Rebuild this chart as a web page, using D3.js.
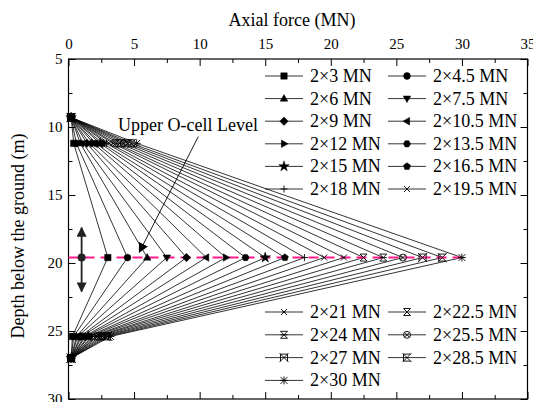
<!DOCTYPE html>
<html>
<head>
<meta charset="utf-8">
<script src="https://cdn.jsdelivr.net/npm/d3@7"></script>
<style>
  body { margin: 0; background: #fff; }
  svg text { font-family: "Liberation Serif", "Times New Roman", "DejaVu Serif", serif !important; }
</style>
</head>
<body>
<svg id="chart" width="533" height="402" font-family="Liberation Serif, serif"></svg>
<script>
// Loads (2 x P MN) and the measured axial force at each depth
var loads = [3, 4.5, 6, 7.5, 9, 10.5, 12, 13.5, 15, 16.5, 18, 19.5, 21, 22.5, 24, 25.5, 27, 28.5, 30];
var labels = ["2×3 MN", "2×4.5 MN", "2×6 MN", "2×7.5 MN", "2×9 MN", "2×10.5 MN", "2×12 MN", "2×13.5 MN",
              "2×15 MN", "2×16.5 MN", "2×18 MN", "2×19.5 MN", "2×21 MN", "2×22.5 MN", "2×24 MN",
              "2×25.5 MN", "2×27 MN", "2×28.5 MN", "2×30 MN"];
var depths = [9.3, 11.2, 19.6, 25.4, 27.0];
var forceTop = [0.2, 0.2, 0.2, 0.2, 0.2, 0.2, 0.2, 0.2, 0.2, 0.2, 0.2, 0.2, 0.2, 0.2, 0.2, 0.2, 0.2, 0.2, 0.2];
var force11 = [0.4, 0.6, 0.9, 1.1, 1.4, 1.6, 1.9, 2.1, 2.4, 2.6, 2.9, 3.1, 3.4, 3.6, 3.9, 4.2, 4.5, 4.8, 5.2];
var forcePeak = [3, 4.5, 6, 7.5, 9, 10.5, 12, 13.5, 15, 16.5, 18, 19.5, 21, 22.5, 24, 25.5, 27, 28.5, 30];
var force25 = [0.3, 0.4, 0.6, 0.7, 0.9, 1.0, 1.2, 1.3, 1.5, 1.6, 1.8, 1.9, 2.1, 2.2, 2.4, 2.6, 2.8, 3.0, 3.2];
var forceBottom = [0.2, 0.2, 0.2, 0.2, 0.2, 0.2, 0.2, 0.2, 0.2, 0.2, 0.2, 0.2, 0.2, 0.2, 0.2, 0.2, 0.2, 0.2, 0.2];
var xTicks = [0, 5, 10, 15, 20, 25, 30, 35];
var yTicks = [5, 10, 15, 20, 25, 30];
var oCellDepth = 19.6;

var FONT = "'Liberation Serif', 'Times New Roman', 'DejaVu Serif', serif";
var svg = d3.select("#chart");
var plot = {left: 68.5, right: 527.5, top: 59, bottom: 399};

var xScale = d3.scaleLinear().domain([0, 35]).range([plot.left, plot.right]);
var yScale = d3.scaleLinear().domain([5, 30]).range([plot.top, plot.bottom]);

var series = loads.map(function(p, i) {
    var f = [forceTop[i], force11[i], forcePeak[i], force25[i], forceBottom[i]];
    return depths.map(function(d, j) { return {x: f[j], y: d}; });
});

// Marker shapes, one per load step
function markerPath(i) {
    switch (i) {
        case 0: return "M-3.2,-3.2h6.4v6.4h-6.4z";
        case 1: return "M3.4,0A3.4,3.4,0,1,1,-3.4,0A3.4,3.4,0,1,1,3.4,0Z";
        case 2: return "M0,-4L3.8,2.6L-3.8,2.6Z";
        case 3: return "M0,4L3.8,-2.6L-3.8,-2.6Z";
        case 4: return "M0,-4.2L4.2,0L0,4.2L-4.2,0Z";
        case 5: return "M-4,0L2.6,-3.8L2.6,3.8Z";
        case 6: return "M4,0L-2.6,-3.8L-2.6,3.8Z";
        case 7: return "M3.6,0L1.8,3.1L-1.8,3.1L-3.6,0L-1.8,-3.1L1.8,-3.1Z";
        case 8: return d3.symbol().type(d3.symbolStar).size(34)();
        case 9: return "M0,-3.7L3.5,-1.1L2.2,3L-2.2,3L-3.5,-1.1Z";
        case 10: return "M-3.5,0H3.5M0,-3.5V3.5";
        case 11: return "M-3,-3L3,3M-3,3L3,-3";
        case 12: return "M-3,-3L3,3M-3,3L3,-3M-1.5,0H1.5";
        case 13: return "M-3.5,-3.5L3.5,3.5M-3.5,3.5L3.5,-3.5M-3.5,-3.5H3.5M-3.5,3.5H3.5";
        case 14: return "M-3.5,-3.5L3.5,3.5M-3.5,3.5L3.5,-3.5M-3.5,0H3.5M-3.5,-3.5H3.5M-3.5,3.5H3.5";
        case 15: return "M3.5,0A3.5,3.5,0,1,1,-3.5,0A3.5,3.5,0,1,1,3.5,0ZM-2.5,-2.5L2.5,2.5M-2.5,2.5L2.5,-2.5";
        case 16: return "M-4.5,-4.5L4.5,4.5M-4.5,4.5L4.5,-4.5M-3.5,-3.5V3.5M3.5,-3.5V3.5M-3.5,-3.5H3.5";
        case 17: return "M-4.5,-4.5L4.5,4.5M-4.5,4.5L4.5,-4.5M-3.5,-3.5V3.5M-3.5,-3.5H3.5M-3.5,3.5H3.5";
        default: return "M-3.5,-3.5L3.5,3.5M-3.5,3.5L3.5,-3.5M-4,0H4M0,-4V4";
    }
}
function filled(i) { return i < 10; }

// Ticks (all pointing inward)
function tickAxis(axis, values, size, translate, labelled) {
    var g = svg.append("g")
        .attr("transform", translate)
        .call(axis.tickValues(values).tickSizeInner(size).tickSizeOuter(0).tickPadding(labelled ? 10 : 0)
             .tickFormat(labelled ? d3.format("d") : ""));
    g.attr("font-family", FONT).attr("font-size", 15);
    g.select(".domain").remove();
    g.selectAll("line").attr("stroke", "#000");
    g.selectAll("text").attr("fill", "#000").style("font-size", "15px")
      .style("font-family", FONT);
    return g;
}
var xMinor = [2.5, 7.5, 12.5, 17.5, 22.5, 27.5, 32.5];
var yMinor = [7.5, 12.5, 17.5, 22.5, 27.5];

// X-Axis on top
tickAxis(d3.axisTop(xScale), xTicks, -7, "translate(0," + plot.top + ")", true);
tickAxis(d3.axisTop(xScale), xMinor, -4, "translate(0," + plot.top + ")", false);
tickAxis(d3.axisBottom(xScale), xTicks, -7, "translate(0," + plot.bottom + ")", false);
tickAxis(d3.axisBottom(xScale), xMinor, -4, "translate(0," + plot.bottom + ")", false);

// Y-Axis
var yg = tickAxis(d3.axisLeft(yScale), yTicks, -7, "translate(" + plot.left + ",0)", true);
yg.selectAll("text").attr("x", -6);
tickAxis(d3.axisLeft(yScale), yMinor, -4, "translate(" + plot.left + ",0)", false);
tickAxis(d3.axisRight(yScale), yTicks, -7, "translate(" + plot.right + ",0)", false);
tickAxis(d3.axisRight(yScale), yMinor, -4, "translate(" + plot.right + ",0)", false);

// Frame
svg.append("rect")
    .attr("x", plot.left).attr("y", plot.top)
    .attr("width", plot.right - plot.left).attr("height", plot.bottom - plot.top)
    .attr("fill", "none").attr("stroke", "#000").attr("stroke-width", 1.2);

// Axis labels
svg.append("text")
    .attr("x", (plot.left + plot.right) / 2 - 6).attr("y", 26)
    .attr("text-anchor", "middle")
    .style("font-family", FONT)
    .style("font-size", "18px")
    .text("Axial force (MN)");

svg.append("text")
    .attr("text-anchor", "middle")
    .attr("transform", "translate(24,236)rotate(-90)")
    .style("font-family", FONT)
    .style("font-size", "18px")
    .text("Depth below the ground (m)");

// Lines
var line = d3.line()
    .x(function(d) { return xScale(d.x); })
    .y(function(d) { return yScale(d.y); });

svg.append("g").selectAll("path")
    .data(series)
    .enter().append("path")
    .attr("d", line)
    .attr("fill", "none")
    .attr("stroke", "#000")
    .attr("stroke-width", 0.8);

// O-cell level
svg.append("line")
    .attr("x1", xScale(0)).attr("x2", xScale(d3.max(forcePeak)))
    .attr("y1", yScale(oCellDepth)).attr("y2", yScale(oCellDepth))
    .attr("stroke", "#ff1a8c")
    .attr("stroke-width", 2)
    .attr("stroke-dasharray", "10,6");

// Markers
series.forEach(function(s, i) {
    svg.append("g").selectAll("path")
        .data(s)
        .enter().append("path")
        .attr("transform", function(d) { return "translate(" + xScale(d.x) + "," + yScale(d.y) + ")"; })
        .attr("d", markerPath(i))
        .attr("fill", filled(i) ? "#000" : "none")
        .attr("stroke", "#000")
        .attr("stroke-width", filled(i) ? 0.5 : 0.9);
});

// Arrowheads
var defs = svg.append("defs");
defs.append("marker")
    .attr("id", "head")
    .attr("viewBox", "0 0 10 10")
    .attr("refX", 9).attr("refY", 5)
    .attr("markerWidth", 10).attr("markerHeight", 10)
    .attr("markerUnits", "userSpaceOnUse")
    .attr("orient", "auto")
    .append("path").attr("d", "M0,0L10,5L0,10Z").attr("fill", "#000");
defs.append("marker")
    .attr("id", "head2")
    .attr("viewBox", "0 0 10 10")
    .attr("refX", 9).attr("refY", 5)
    .attr("markerWidth", 14).attr("markerHeight", 10)
    .attr("markerUnits", "userSpaceOnUse")
    .attr("orient", "auto-start-reverse")
    .append("path").attr("d", "M0,0L10,5L0,10Z").attr("fill", "#222");

// Upper O-cell Level annotation
svg.append("text")
    .attr("x", 118).attr("y", 131)
    .style("font-family", FONT)
    .style("font-size", "18px")
    .text("Upper O-cell Level");
svg.append("line")
    .attr("x1", xScale(9.9)).attr("y1", yScale(10.7))
    .attr("x2", xScale(5.4)).attr("y2", yScale(19.2))
    .attr("stroke", "#000").attr("stroke-width", 0.9)
    .attr("marker-end", "url(#head)");

// Up-down arrow at the O-cell
svg.append("line")
    .attr("x1", xScale(1.0)).attr("y1", yScale(17.4))
    .attr("x2", xScale(1.0)).attr("y2", yScale(22.1))
    .attr("stroke", "#222").attr("stroke-width", 1.8)
    .attr("marker-start", "url(#head2)")
    .attr("marker-end", "url(#head2)");
svg.append("circle")
    .attr("cx", xScale(1.0)).attr("cy", yScale(oCellDepth))
    .attr("r", 4).attr("fill", "#222");

// Legend
function legendRow(i, x, y) {
    var g = svg.append("g").attr("transform", "translate(" + x + "," + y + ")");
    g.append("line").attr("x1", 0).attr("x2", 38).attr("y1", 0).attr("y2", 0)
        .attr("stroke", "#000").attr("stroke-width", 0.8);
    g.append("path").attr("transform", "translate(19,0)").attr("d", markerPath(i))
        .attr("fill", filled(i) ? "#000" : "none").attr("stroke", "#000")
        .attr("stroke-width", filled(i) ? 0.5 : 0.9);
    g.append("text").attr("x", 45).attr("y", 6)
        .style("font-family", FONT).style("font-size", "18px").text(labels[i]);
}
var colX = [265, 388];
for (var i = 0; i < 12; i++) {
    legendRow(i, colX[i % 2], 76 + Math.floor(i / 2) * 22.6);
}
for (var j = 12; j < 19; j++) {
    var k = j - 12;
    legendRow(j, colX[k % 2], 312 + Math.floor(k / 2) * 22.8);
}
</script>
</body>
</html>
